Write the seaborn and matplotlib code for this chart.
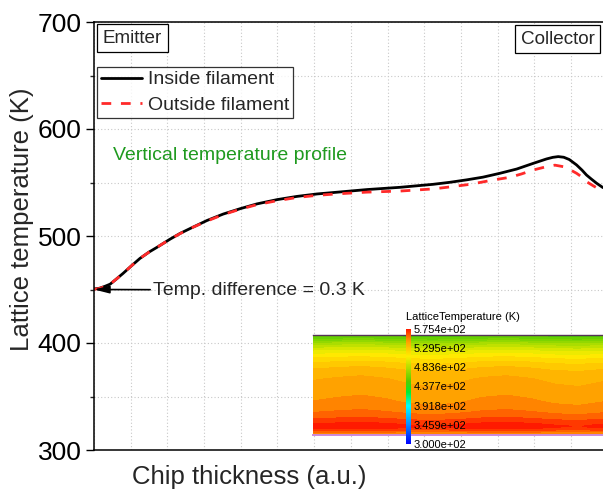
import numpy as np
import pandas as pd
import matplotlib
matplotlib.use("Agg")
import matplotlib.pyplot as plt
import seaborn as sns
from matplotlib.colors import LinearSegmentedColormap, Normalize
from matplotlib.ticker import MultipleLocator
import matplotlib.cm as mcm

# ---------------- data ----------------
pos_inside = [0.00, 0.15, 0.30, 0.44, 0.60, 0.79, 1.00, 1.25, 1.50, 1.72, 2.07,
              2.35, 2.62, 3.08, 3.52, 3.98, 4.44, 4.99, 5.53, 6.08, 6.68,
              7.44, 8.34, 9.24, 9.70, 10.16, 10.60, 11.06, 11.52, 11.97, 12.33,
              12.50, 12.65, 12.80, 12.95, 13.15, 13.30, 13.42, 13.56, 13.70, 13.87]
temp_inside = [450.5, 451.2, 453.0, 455.0, 459.5, 465.0, 471.5, 479.0, 485.0, 489.5, 497.0,
               502.5, 507.0, 514.5, 520.5, 525.5, 530.0, 534.0, 537.0, 539.3, 541.1,
               543.4, 545.5, 548.3, 550.2, 552.5, 555.0, 558.6, 562.6, 567.9, 572.0,
               573.5, 574.2, 573.6, 571.5, 566.4, 561.5, 557.0, 553.0, 549.2, 545.2]

pos_outside = [0.00, 0.15, 0.30, 0.44, 0.60, 0.79, 1.00, 1.25, 1.50, 1.72, 2.07,
               2.35, 2.62, 3.08, 3.52, 3.98, 4.44, 4.99, 5.53, 6.08, 6.68,
               7.44, 8.34, 9.24, 9.61, 10.25, 10.87, 11.34, 11.65, 11.97, 12.33,
               12.56, 12.79, 12.97, 13.15, 13.30, 13.42, 13.60, 13.80, 13.87]
temp_outside = [450.2, 451.0, 452.8, 455.0, 459.5, 465.0, 471.5, 479.0, 485.0, 489.5, 497.0,
                502.3, 507.0, 514.0, 520.0, 525.0, 529.3, 533.0, 536.0, 538.0, 539.5,
                541.0, 542.0, 544.0, 545.5, 548.3, 552.3, 554.9, 558.0, 561.7, 564.8,
                566.2, 564.8, 562.0, 558.6, 555.0, 550.8, 547.0, 543.0, 541.4]

series_names = ["Inside filament", "Outside filament"]
y_ticks = [300, 400, 500, 600, 700]

# inset (lateral cross-section) : lateral positions and lateral temperature ripple
lateral_pos = [0, 1, 2, 3, 4, 5, 6, 7, 8, 9, 10, 11, 12]
lateral_ripple = [0.0, 1.5, 2.5, 1.0, -1.5, -2.5, -1.0, 1.5, 2.5, 1.0, -1.5, -2.5, -0.5]
cbar_ticks = [300.0, 345.9, 391.8, 437.7, 483.6, 529.5, 575.4]

# ---------------- style ----------------
sns.set_theme(style="white")
plt.rcParams["font.family"] = ["Liberation Sans", "DejaVu Sans"]

W, H = 603, 495
fig = plt.figure(figsize=(W / 100, H / 100), dpi=100)
ax = fig.add_axes([94 / W, 45 / H, 509 / W, 428 / H])

df_in = pd.DataFrame({"pos": pos_inside, "temp": temp_inside})
df_out = pd.DataFrame({"pos": pos_outside, "temp": temp_outside})

sns.lineplot(data=df_in, x="pos", y="temp", color="black", linewidth=2.0,
             label=series_names[0], ax=ax, sort=False, estimator=None)
sns.lineplot(data=df_out, x="pos", y="temp", color="#ff2a2a", linewidth=2.0,
             linestyle=(0, (3.5, 3.5)), label=series_names[1], ax=ax,
             sort=False, estimator=None)

ax.set_xlim(0, 13.87)
ax.set_ylim(300, 700)
ax.set_yticks(y_ticks)
ax.yaxis.set_minor_locator(MultipleLocator(50))
ax.set_xticks(np.arange(0, 14))
ax.set_xticklabels([])
ax.tick_params(axis="x", length=0)
ax.tick_params(axis="y", which="major", direction="out", length=6, width=1,
               labelsize=19, pad=3, left=True, colors="black")
ax.tick_params(axis="y", which="minor", direction="out", length=3, width=1, left=True)
ax.grid(True, which="both", color="#c8c8c8", linestyle=(0, (1, 2)), linewidth=0.8)
for s in ["left", "bottom", "top"]:
    ax.spines[s].set_color("black")
    ax.spines[s].set_linewidth(1.1)
ax.spines["right"].set_visible(False)

ax.set_xlabel("Chip thickness (a.u.)", fontsize=18.5)
ax.set_ylabel("Lattice temperature (K)", fontsize=18.5)
ax.xaxis.set_label_coords(0.3055, -0.035)
ax.yaxis.set_label_coords(-0.118, 0.54)

leg = ax.legend(loc="upper left", bbox_to_anchor=(0.006, 0.895), borderaxespad=0,
                fontsize=14, frameon=True, fancybox=False, edgecolor="black",
                handlelength=2.1, handletextpad=0.3, labelspacing=0.42, borderpad=0.2)
leg.get_frame().set_linewidth(0.9)

box = dict(boxstyle="square,pad=0.3", facecolor="white", edgecolor="black", linewidth=0.9)
ax.text(1.05, 685, "Emitter", fontsize=13.6, ha="center", va="center", bbox=box)
ax.text(12.63, 684, "Collector", fontsize=13.6, ha="center", va="center", bbox=box)
ax.text(0.52, 575, "Vertical temperature profile", fontsize=14, color="#1f9a1f",
        ha="left", va="center")

ax.annotate("Temp. difference = 0.3 K", xy=(0.0, 450), xytext=(1.62, 449.5),
            textcoords="data", ha="left", va="center", fontsize=14,
            arrowprops=dict(arrowstyle="-|>,head_length=0.6,head_width=0.15",
                            color="black", lw=1.2, shrinkA=0, shrinkB=0,
                            mutation_scale=15))

# ---------------- inset: simulated cross-section ----------------
cmap = LinearSegmentedColormap.from_list("sentaurus", [
    (0.00, "#0000ff"), (0.17, "#0a8cff"), (0.33, "#00ffff"), (0.45, "#00ee30"),
    (0.545, "#55cc00"), (0.655, "#aadd00"), (0.764, "#ffee00"), (0.836, "#ffc400"),
    (0.89, "#ffa000"), (0.927, "#ff7a00"), (0.964, "#ff4a00"), (1.00, "#ff1a00")])
norm = Normalize(300, 575.4)

iax = fig.add_axes([313 / W, 60 / H, 290 / W, 100 / H])
Z = np.array(temp_inside)[:, None] + np.array(lateral_ripple)[None, :]
iax.contourf(lateral_pos, pos_inside, Z, levels=np.linspace(300, 580, 36),
             cmap=cmap, norm=norm)
iax.set_xlim(0, 12)
iax.set_ylim(max(pos_inside), 0)
iax.set_xticks([])
iax.set_yticks([])
iax.spines["left"].set_visible(False)
iax.spines["right"].set_visible(False)
iax.spines["top"].set_color("#553355")
iax.spines["top"].set_linewidth(1.0)
iax.spines["bottom"].set_color("#cc88dd")
iax.spines["bottom"].set_linewidth(1.4)

cax = fig.add_axes([406 / W, (H - 444) / H, 5 / W, 115 / H])
cb = fig.colorbar(mcm.ScalarMappable(norm=norm, cmap=cmap), cax=cax, ticks=cbar_ticks)
cb.ax.set_yticklabels([f"{t:.3e}" for t in cbar_ticks])
cb.outline.set_visible(False)
cax.tick_params(length=0, pad=2, labelsize=8, colors="black")
fig.text(406 / W, (H - 317) / H, "LatticeTemperature (K)", fontsize=8,
         ha="left", va="center", color="black")

fig.savefig("out.png", dpi=100)
